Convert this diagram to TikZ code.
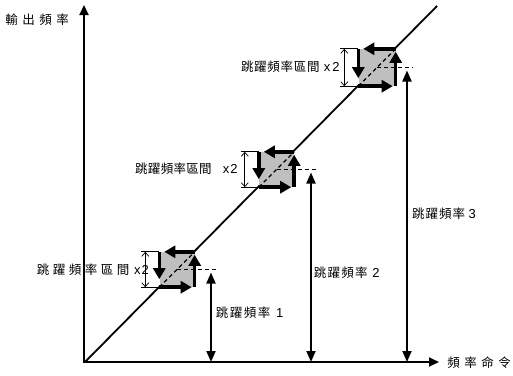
\documentclass[tikz,border=0pt]{standalone}
\usepackage{fontspec}
\setmainfont{Liberation Sans}
\newfontfamily\cjk{Noto Sans CJK TC}
\usetikzlibrary{arrows.meta,calc}
\ExplSyntaxOn
\NewDocumentCommand\spaced{mm}{\tl_map_inline:nn{#2}{\makebox[#1][c]{\cjk\fontsize{12.5}{14}\selectfont ##1}}}
\ExplSyntaxOff
\begin{document}
\begin{tikzpicture}[x=1pt,y=-1pt,
  axarrow/.style={line width=1.8pt,-{Triangle[length=10pt,width=9pt]}},
  plainln/.style={line width=1.8pt},
  dbl/.style={line width=1.8pt,{Triangle[length=11pt,width=9pt]}-{Triangle[length=11pt,width=9pt]}},
  looparrow/.style={line width=3.5pt,-{Triangle[length=11pt,width=12pt]}},
  hopbox/.style={fill=gray!50,draw=none,minimum size=35pt,inner sep=0pt},
  dashln/.style={line width=1.1pt,dash pattern=on 4pt off 3pt},
  span/.style={line width=0.7pt,{Straight Barb[length=4pt,width=7pt]}-{Straight Barb[length=4pt,width=7pt]}},
  tick/.style={line width=0.7pt},
  lbl/.style={inner sep=0pt,anchor=west,font=\fontsize{13}{14}\selectfont}]
\useasboundingbox (0,0) rectangle (513,375);
% axes
\coordinate (o) at (84,362);
\coordinate (ytop) at (84,5);
\coordinate (xend) at (439,362);
\draw[axarrow] ([yshift=-0.9pt]o) -- (ytop);
\draw[axarrow] ([xshift=-0.9pt]o) -- (xend);
\node[lbl] (ylab) at (3,20) {\spaced{17pt}{輸出頻率}};
\node[lbl] (xlab) at (445,363) {\spaced{17pt}{頻率命令}};
% diagonal
\coordinate (d0) at (85,362);
\coordinate (d1) at (437,6);
\draw[plainln] (d0) -- (d1);
% hop boxes
\node[hopbox] (b1) at (177,269.5) {};
\node[hopbox] (b2) at (276.5,169.5) {};
\node[hopbox,minimum size=37pt] (b3) at (377,67.5) {};
% vertical jump frequency arrows
\coordinate (v1t) at (211,272.5);
\coordinate (v1b) at (211,362);
\coordinate (v2t) at (311,172.5);
\coordinate (v2b) at (311,362);
\coordinate (v3t) at (407,70.5);
\coordinate (v3b) at (407,362);
\draw[dbl] (v1t) -- (v1b);
\draw[dbl] (v2t) -- (v2b);
\draw[dbl] (v3t) -- (v3b);
% dashed helper lines
\draw[dashln] (b1.center) -- (b1.center -| 217,0);
\draw[dashln] (b2.center) -- (b2.center -| 317,0);
\draw[dashln] (b3.center) -- (b3.center -| 413,0);
\foreach \b in {b1,b2,b3}{
  \draw[dashln] (\b.south west) -- (\b.north east);
  \draw[looparrow] (\b.north west) -- ([yshift=8pt]\b.south west);
  \draw[looparrow] (\b.south west) -- ([xshift=-3pt]\b.south east);
  \draw[looparrow] (\b.south east) -- ([yshift=-3pt]\b.north east);
  \draw[looparrow] (\b.north east) -- ([xshift=5pt]\b.north west);
  \draw[tick] ([xshift=-18pt]\b.north west) -- (\b.north west);
  \draw[tick] ([xshift=-18pt]\b.south west) -- (\b.south west);
  \draw[span] ([xshift=-14pt]\b.north west) -- ([xshift=-14pt]\b.south west);
}
% interval labels
\node[lbl] (l1) at (35,270) {\spaced{16pt}{跳躍頻率區間}\hspace{3pt}x\hspace{1pt}2};
\node[lbl] (l2) at (134.8,169) {\spaced{12.8pt}{跳躍頻率區間}\hspace{11pt}x\hspace{1pt}2};
\node[lbl] (l3) at (240.5,67) {\spaced{13.2pt}{跳躍頻率區間}\hspace{4pt}x\hspace{2pt}2};
% jump frequency labels
\node[lbl] (f1) at (215,313) {\spaced{14pt}{跳躍頻率}\hspace{5pt}1};
\node[lbl] (f2) at (313,273) {\spaced{13.8pt}{跳躍頻率}\hspace{4pt}2};
\node[lbl] (f3) at (411.5,214) {\spaced{13.5pt}{跳躍頻率}\hspace{3pt}3};
\end{tikzpicture}
\end{document}
